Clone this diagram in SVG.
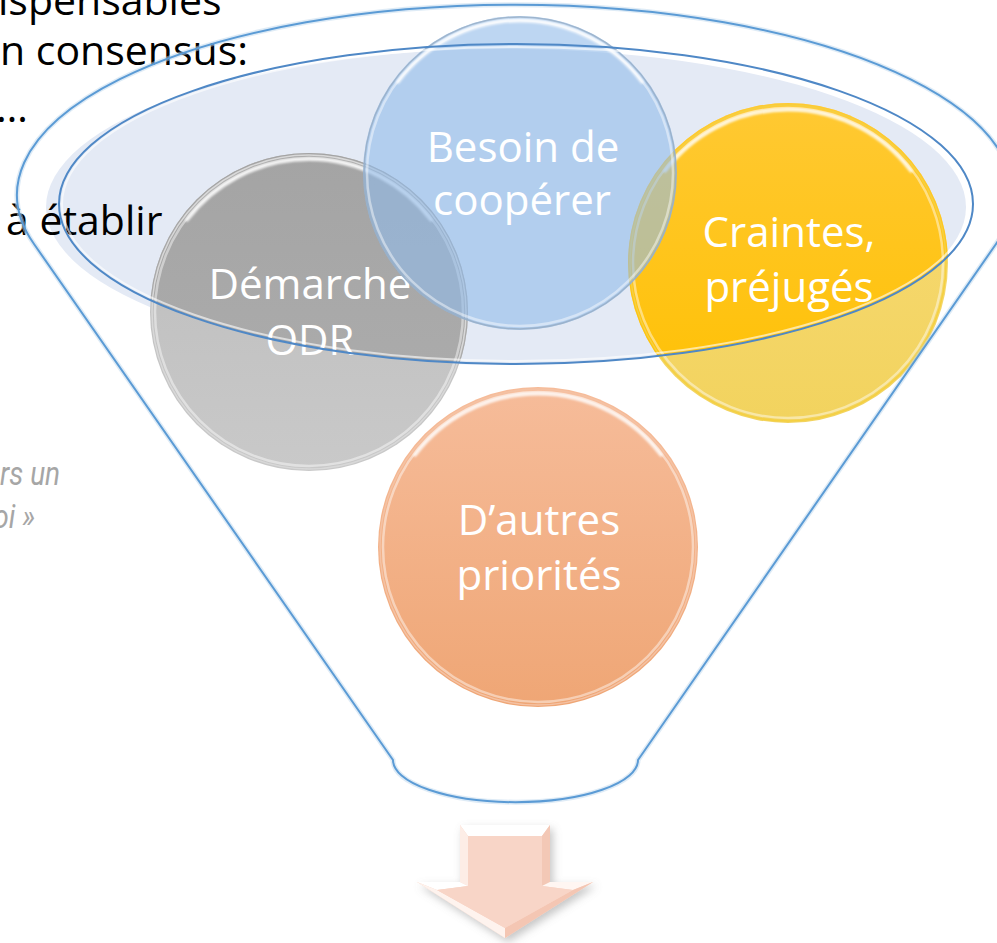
<svg xmlns="http://www.w3.org/2000/svg" width="997" height="943" viewBox="0 0 997 943">
  <style>
    .lbl { font-family: "Open Sans", "Liberation Sans", sans-serif; font-size: 42px; fill: #FFFFFF; text-anchor: middle; }
    .body { font-family: "Open Sans", "Liberation Sans", sans-serif; font-size: 41px; fill: #000000; }
    .note { font-family: Roboto, "Liberation Sans", sans-serif; font-style: italic; font-weight: 400; font-size: 33px; fill: #A6A6A6; }
    .rim { fill: none; stroke: #FFFFFF; stroke-width: 2.5; stroke-opacity: 0.45; }
    .shine { fill: none; stroke: #FFFFFF; stroke-width: 3.5; stroke-opacity: 0.85; stroke-linecap: round; filter: url(#soft); }
    .funnel-line { fill: none; stroke: #5B9BD5; stroke-width: 2; }
    .funnel-glow { fill: none; stroke: #BDD7EE; stroke-width: 5; stroke-opacity: 0.5; }
  </style>
  <defs>
    <filter id="soft" x="-10%" y="-10%" width="120%" height="120%">
      <feGaussianBlur stdDeviation="1"/>
    </filter>
    <filter id="shadow" x="-30%" y="-30%" width="160%" height="160%">
      <feDropShadow dx="3" dy="4" stdDeviation="4" flood-color="#808080" flood-opacity="0.45"/>
    </filter>
    <clipPath id="inEll">
      <ellipse cx="516" cy="204" rx="457" ry="160"/>
    </clipPath>
    <linearGradient id="grayOut" x1="0" y1="0" x2="0" y2="1">
      <stop offset="0" stop-color="#BBBBBB"/>
      <stop offset="1" stop-color="#C9C9C9"/>
    </linearGradient>
    <linearGradient id="grayIn" x1="0" y1="0" x2="0" y2="1">
      <stop offset="0" stop-color="#A4A4A4"/>
      <stop offset="1" stop-color="#AEAEAE"/>
    </linearGradient>
    <linearGradient id="yelOut" x1="0" y1="0" x2="0" y2="1">
      <stop offset="0" stop-color="#F8DB78"/>
      <stop offset="1" stop-color="#F2D35E"/>
    </linearGradient>
    <linearGradient id="yelIn" x1="0" y1="0" x2="0" y2="1">
      <stop offset="0" stop-color="#FFC933"/>
      <stop offset="1" stop-color="#FFC000"/>
    </linearGradient>
    <linearGradient id="orange" x1="0" y1="0" x2="0" y2="1">
      <stop offset="0" stop-color="#F6BC9A"/>
      <stop offset="1" stop-color="#EFA675"/>
    </linearGradient>
  </defs>

  <rect x="0" y="0" width="997" height="943" fill="#FFFFFF"/>

  <!-- funnel interior fill (behind everything) -->
  <g id="funnel-back">
    <ellipse cx="506" cy="207" rx="460" ry="158" fill="#E4EAF5"/>
  </g>

  <!-- background slide text -->
  <g id="slide-text">
    <text class="body" x="-2" y="15">ispensables</text>
    <text class="body" x="0" y="65">n consensus:</text>
    <text class="body" x="-4" y="122">…</text>
    <text class="body" x="6" y="235">à établir</text>
    <g transform="scale(0.85,1)">
      <text class="note" x="0" y="485">rs un</text>
      <text class="note" x="-8" y="528">oi »</text>
    </g>
  </g>

  <g id="node-demarche">
    <circle cx="309" cy="312" r="159" fill="url(#grayOut)"/>
    <circle cx="309" cy="312" r="159" fill="url(#grayIn)" clip-path="url(#inEll)"/>
    <circle cx="309" cy="312" r="157" fill="none" stroke="#D8D8D8" stroke-width="1.5"/>
    <circle cx="309" cy="312" r="154" class="rim"/>
    <path class="shine" d="M 187 220 A 153 153 0 0 1 431 220"/>
    <text class="lbl" x="310" y="299">Démarche</text>
    <text class="lbl" x="310" y="355">ODR</text>
  </g>

  <g id="node-craintes">
    <circle cx="788" cy="263" r="160" fill="url(#yelOut)"/>
    <circle cx="788" cy="263" r="160" fill="url(#yelIn)" clip-path="url(#inEll)"/>
    <circle cx="788" cy="263" r="158" fill="none" stroke="#F5D040" stroke-width="1.5"/>
    <circle cx="788" cy="263" r="155" class="rim"/>
    <path class="shine" d="M 665 171 A 154 154 0 0 1 911 171"/>
    <text class="lbl" x="789" y="247">Craintes,</text>
    <text class="lbl" x="789" y="302">préjugés</text>
  </g>

  <g id="node-priorites">
    <circle cx="538" cy="547" r="160" fill="url(#orange)"/>
    <circle cx="538" cy="547" r="158" fill="none" stroke="#F4C2A4" stroke-width="1.5"/>
    <circle cx="538" cy="547" r="155" class="rim"/>
    <path class="shine" d="M 415 455 A 154 154 0 0 1 661 455"/>
    <text class="lbl" x="539" y="535">D’autres</text>
    <text class="lbl" x="539" y="590">priorités</text>
  </g>

  <g id="node-besoin">
    <circle cx="520" cy="173" r="157" fill="#91BAE9" fill-opacity="0.6"/>
    <circle cx="520" cy="173" r="156" fill="none" stroke="#98AFC8" stroke-width="1.5" stroke-opacity="0.9"/>
    <circle cx="520" cy="173" r="153" class="rim"/>
    <path class="shine" d="M 398 82 A 152 152 0 0 1 642 82"/>
    <text class="lbl" x="523" y="162">Besoin de</text>
    <text class="lbl" x="522" y="215">coopérer</text>
  </g>

  <!-- funnel outline drawn on top -->
  <g id="funnel">
    <path class="funnel-glow" d="M 34 244 A 498 190 0 1 1 996 244 L 638 760 A 122 42 0 0 1 393 760 Z"/>
    <path class="funnel-line" d="M 34 244 A 498 190 0 1 1 996 244 L 638 760 A 122 42 0 0 1 393 760 Z"/>
    <ellipse cx="516" cy="204" rx="454" ry="157" fill="none" stroke="#FFFFFF" stroke-width="2" stroke-opacity="0.6"/>
    <ellipse cx="516" cy="204" rx="457" ry="160" fill="none" stroke="#4F88C6" stroke-width="2"/>
  </g>

  <g id="connectors">
    <g id="arrow" filter="url(#shadow)">
      <polygon points="460,825 550,825 550,882 593,882 505,938 417,882 460,882" fill="#F8D3C4"/>
      <polygon points="460,825 550,825 542,836 468,836" fill="#FFFFFF"/>
      <polygon points="460,825 468,836 468,886 460,882" fill="#FDEDE6"/>
      <polygon points="550,825 542,836 542,886 550,882" fill="#F3C8B6"/>
      <polygon points="417,882 460,882 468,886 437,890" fill="#FFFFFF"/>
      <polygon points="550,882 593,882 573,890 542,886" fill="#FFF6F2"/>
      <polygon points="417,882 437,890 505,928 505,938" fill="#FEF3EE"/>
      <polygon points="593,882 505,938 505,928 573,890" fill="#F4C6B3"/>
      <polygon points="468,836 542,836 542,886 573,890 505,928 437,890 468,886" fill="#F8D5C7"/>
    </g>
  </g>
</svg>
